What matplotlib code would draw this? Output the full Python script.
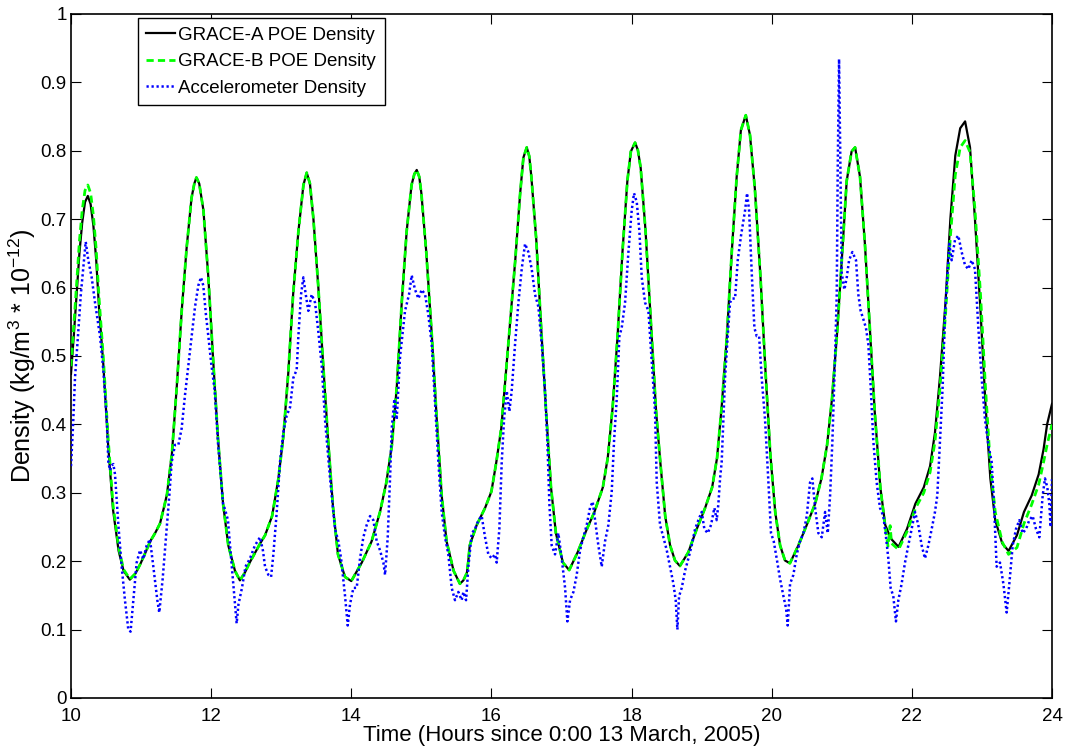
import numpy as np
import matplotlib
matplotlib.use("Agg")
import matplotlib.pyplot as plt

# ---------------- data ----------------
t_poe = [10.00, 10.04, 10.08, 10.12, 10.16, 10.20, 10.24, 10.28, 10.32, 10.36, 10.40, 10.46, 10.53, 10.60,
         10.68, 10.75, 10.84, 10.92, 10.99, 11.06, 11.13, 11.20, 11.27, 11.33, 11.37, 11.44, 11.51, 11.58,
         11.65, 11.72, 11.76, 11.79, 11.83, 11.89, 11.96, 12.03, 12.10, 12.17, 12.245, 12.34, 12.41, 12.48,
         12.55, 12.70, 12.77, 12.87, 12.96, 13.03, 13.10, 13.17, 13.245, 13.317, 13.364, 13.41, 13.46, 13.53,
         13.60, 13.67, 13.74, 13.81, 13.91, 14.00, 14.15, 14.29, 14.41, 14.50, 14.58, 14.65, 14.72, 14.79,
         14.86, 14.90, 14.934, 14.97, 15.00, 15.07, 15.15, 15.22, 15.29, 15.36, 15.46, 15.55, 15.60, 15.65,
         15.67, 15.69, 15.79, 15.91, 16.00, 16.07, 16.14, 16.19, 16.26, 16.34, 16.41, 16.456, 16.504, 16.54,
         16.57, 16.64, 16.71, 16.78, 16.85, 16.92, 17.02, 17.11, 17.23, 17.35, 17.47, 17.59, 17.66, 17.73,
         17.80, 17.87, 17.94, 17.99, 18.05, 18.09, 18.13, 18.20, 18.28, 18.35, 18.41, 18.48, 18.55, 18.62,
         18.69, 18.81, 18.93, 19.05, 19.15, 19.22, 19.29, 19.36, 19.43, 19.50, 19.56, 19.63, 19.69, 19.76,
         19.84, 19.91, 19.98, 20.05, 20.12, 20.19, 20.26, 20.38, 20.50, 20.62, 20.71, 20.79, 20.86, 20.93,
         21.00, 21.07, 21.14, 21.19, 21.26, 21.33, 21.40, 21.47, 21.55, 21.62, 21.66, 21.69, 21.71, 21.81,
         21.93, 22.05, 22.17, 22.26, 22.33, 22.40, 22.48, 22.55, 22.62, 22.69, 22.76, 22.83, 22.90, 22.98,
         23.05, 23.12, 23.19, 23.29, 23.38, 23.50, 23.60, 23.71, 23.81, 23.88, 23.93, 24.00]

grace_a = [0.474, 0.53, 0.59, 0.65, 0.695, 0.725, 0.734, 0.722, 0.69, 0.64, 0.57, 0.49, 0.37, 0.275,
           0.215, 0.186, 0.173, 0.182, 0.196, 0.212, 0.229, 0.241, 0.255, 0.28, 0.298, 0.357, 0.456, 0.566,
           0.658, 0.731, 0.752, 0.761, 0.752, 0.713, 0.615, 0.492, 0.376, 0.284, 0.223, 0.186, 0.172, 0.183,
           0.198, 0.226, 0.238, 0.266, 0.321, 0.382, 0.474, 0.59, 0.682, 0.75, 0.768, 0.752, 0.70, 0.60,
           0.486, 0.376, 0.278, 0.21, 0.177, 0.171, 0.198, 0.229, 0.272, 0.315, 0.37, 0.456, 0.578, 0.682,
           0.75, 0.766, 0.772, 0.762, 0.738, 0.652, 0.529, 0.407, 0.296, 0.229, 0.186, 0.167, 0.172, 0.183,
           0.20, 0.223, 0.253, 0.278, 0.302, 0.345, 0.394, 0.456, 0.541, 0.64, 0.738, 0.79, 0.805, 0.792,
           0.762, 0.67, 0.541, 0.419, 0.308, 0.241, 0.198, 0.187, 0.213, 0.244, 0.272, 0.308, 0.351, 0.425,
           0.529, 0.652, 0.756, 0.799, 0.812, 0.801, 0.775, 0.682, 0.541, 0.419, 0.345, 0.266, 0.223, 0.201,
           0.193, 0.213, 0.247, 0.278, 0.308, 0.351, 0.431, 0.529, 0.652, 0.762, 0.83, 0.852, 0.823, 0.744,
           0.615, 0.48, 0.357, 0.272, 0.223, 0.201, 0.197, 0.223, 0.253, 0.284, 0.321, 0.37, 0.437, 0.529,
           0.64, 0.756, 0.799, 0.805, 0.762, 0.664, 0.541, 0.419, 0.308, 0.253, 0.243, 0.236, 0.232, 0.221,
           0.247, 0.284, 0.308, 0.339, 0.388, 0.468, 0.578, 0.701, 0.793, 0.833, 0.843, 0.805, 0.701, 0.566,
           0.431, 0.321, 0.26, 0.226, 0.215, 0.238, 0.272, 0.296, 0.327, 0.364, 0.40, 0.43]

grace_b = [0.485, 0.545, 0.605, 0.668, 0.713, 0.742, 0.75, 0.738, 0.705, 0.655, 0.585, 0.50, 0.38, 0.282,
           0.22, 0.188, 0.174, 0.182, 0.196, 0.212, 0.229, 0.241, 0.255, 0.28, 0.298, 0.357, 0.456, 0.566,
           0.658, 0.731, 0.752, 0.761, 0.752, 0.713, 0.615, 0.492, 0.376, 0.284, 0.223, 0.186, 0.172, 0.183,
           0.198, 0.226, 0.238, 0.266, 0.321, 0.382, 0.474, 0.59, 0.682, 0.75, 0.768, 0.752, 0.70, 0.60,
           0.486, 0.376, 0.278, 0.21, 0.177, 0.171, 0.198, 0.229, 0.272, 0.315, 0.37, 0.456, 0.578, 0.682,
           0.75, 0.766, 0.772, 0.762, 0.738, 0.652, 0.529, 0.407, 0.296, 0.229, 0.186, 0.167, 0.172, 0.183,
           0.20, 0.223, 0.253, 0.278, 0.302, 0.345, 0.394, 0.456, 0.541, 0.64, 0.738, 0.79, 0.805, 0.792,
           0.762, 0.67, 0.541, 0.419, 0.308, 0.241, 0.198, 0.187, 0.213, 0.244, 0.272, 0.308, 0.351, 0.425,
           0.529, 0.652, 0.756, 0.799, 0.812, 0.801, 0.775, 0.682, 0.541, 0.419, 0.345, 0.266, 0.223, 0.201,
           0.193, 0.213, 0.247, 0.278, 0.308, 0.351, 0.431, 0.529, 0.652, 0.762, 0.83, 0.852, 0.823, 0.744,
           0.615, 0.48, 0.357, 0.272, 0.223, 0.201, 0.197, 0.223, 0.253, 0.284, 0.321, 0.37, 0.437, 0.529,
           0.64, 0.756, 0.799, 0.805, 0.762, 0.664, 0.541, 0.419, 0.308, 0.25, 0.222, 0.252, 0.226, 0.217,
           0.243, 0.277, 0.300, 0.330, 0.375, 0.452, 0.56, 0.675, 0.765, 0.805, 0.815, 0.798, 0.715, 0.59,
           0.455, 0.34, 0.272, 0.228, 0.21, 0.22, 0.255, 0.283, 0.312, 0.345, 0.37, 0.40]

t_acc = [10.000, 10.03, 10.057, 10.10, 10.14, 10.18, 10.21, 10.247, 10.295, 10.343, 10.414, 10.461, 10.51,
         10.533, 10.557, 10.58, 10.604, 10.628, 10.676, 10.723, 10.77, 10.818, 10.85, 10.89, 10.937, 10.985,
         11.032, 11.08, 11.127, 11.175, 11.232, 11.26, 11.308, 11.355, 11.403, 11.437, 11.484, 11.532, 11.579,
         11.627, 11.674, 11.722, 11.77, 11.817, 11.855, 11.888, 11.926, 11.96, 12.0, 12.05, 12.10, 12.14,
         12.17, 12.20, 12.24, 12.28, 12.33, 12.364, 12.39, 12.44, 12.49, 12.554, 12.625, 12.697, 12.74,
         12.769, 12.817, 12.855, 12.888, 12.936, 12.983, 13.03, 13.078, 13.126, 13.173, 13.221, 13.245,
         13.283, 13.316, 13.35, 13.387, 13.435, 13.483, 13.53, 13.578, 13.625, 13.697, 13.768, 13.816,
         13.854, 13.911, 13.949, 13.982, 14.03, 14.077, 14.125, 14.172, 14.22, 14.268, 14.315, 14.363, 14.41,
         14.458, 14.482, 14.52, 14.553, 14.577, 14.615, 14.648, 14.696, 14.767, 14.824, 14.862, 14.91,
         14.958, 15.005, 15.053, 15.1, 15.148, 15.195, 15.243, 15.29, 15.338, 15.385, 15.433, 15.48, 15.528,
         15.575, 15.60, 15.638, 15.671, 15.719, 15.766, 15.814, 15.861, 15.909, 15.956, 16.004, 16.052,
         16.075, 16.113, 16.147, 16.18, 16.218, 16.256, 16.289, 16.337, 16.385, 16.432, 16.48, 16.527,
         16.575, 16.622, 16.67, 16.718, 16.765, 16.798, 16.827, 16.86, 16.908, 16.955, 17.003, 17.051,
         17.084, 17.122, 17.17, 17.217, 17.265, 17.312, 17.36, 17.407, 17.445, 17.479, 17.526, 17.574,
         17.621, 17.669, 17.717, 17.75, 17.788, 17.826, 17.859, 17.907, 17.955, 18.002, 18.035, 18.074,
         18.112, 18.145, 18.193, 18.24, 18.288, 18.335, 18.359, 18.406, 18.454, 18.502, 18.549, 18.597,
         18.63, 18.654, 18.678, 18.716, 18.763, 18.811, 18.858, 18.906, 18.953, 19.001, 19.039, 19.087,
         19.134, 19.182, 19.215, 19.239, 19.263, 19.286, 19.31, 19.334, 19.372, 19.405, 19.439, 19.477,
         19.515, 19.562, 19.62, 19.648, 19.677, 19.715, 19.753, 19.786, 19.82, 19.857, 19.905, 19.953,
         19.99, 20.029, 20.071, 20.119, 20.167, 20.205, 20.228, 20.262, 20.309, 20.357, 20.404, 20.452,
         20.5, 20.547, 20.58, 20.619, 20.666, 20.714, 20.762, 20.8, 20.833, 20.866, 20.904, 20.928, 20.942,
         20.961, 20.98, 20.999, 21.037, 21.071, 21.104, 21.151, 21.203, 21.236, 21.269, 21.307, 21.345,
         21.379, 21.412, 21.45, 21.498, 21.545, 21.593, 21.631, 21.664, 21.697, 21.735, 21.773, 21.807,
         21.854, 21.902, 21.949, 21.997, 22.045, 22.092, 22.14, 22.187, 22.235, 22.283, 22.33, 22.363,
         22.401, 22.44, 22.473, 22.506, 22.535, 22.568, 22.616, 22.663, 22.711, 22.758, 22.806, 22.853,
         22.901, 22.949, 22.996, 23.044, 23.091, 23.139, 23.172, 23.21, 23.258, 23.306, 23.353, 23.391,
         23.439, 23.486, 23.534, 23.581, 23.629, 23.676, 23.724, 23.772, 23.819, 23.867, 23.9, 23.933,
         23.962, 23.98, 24.0]

accel = [0.339, 0.40, 0.468, 0.53, 0.59, 0.635, 0.667, 0.64, 0.615, 0.578, 0.529, 0.48, 0.407,
         0.345, 0.333, 0.34, 0.342, 0.327, 0.253, 0.192, 0.143, 0.10, 0.097, 0.143, 0.198, 0.216,
         0.203, 0.223, 0.232, 0.192, 0.143, 0.125, 0.174, 0.235, 0.296, 0.345, 0.37, 0.37, 0.394,
         0.443, 0.486, 0.529, 0.572, 0.603, 0.615, 0.603, 0.56, 0.529, 0.49, 0.45, 0.37, 0.32,
         0.284, 0.275, 0.26, 0.21, 0.15, 0.109, 0.137, 0.161, 0.192, 0.204, 0.223, 0.235, 0.215,
         0.192, 0.18, 0.177, 0.21, 0.272, 0.345, 0.388, 0.413, 0.425, 0.468, 0.48, 0.529,
         0.59, 0.615, 0.59, 0.566, 0.59, 0.578, 0.535, 0.486, 0.407, 0.321, 0.247, 0.229,
         0.204, 0.149, 0.106, 0.137, 0.161, 0.161, 0.204, 0.235, 0.253, 0.266, 0.26, 0.229, 0.216,
         0.198, 0.18, 0.235, 0.321, 0.394, 0.437, 0.407, 0.499, 0.566, 0.59, 0.618, 0.597,
         0.584, 0.597, 0.59, 0.56, 0.517, 0.431, 0.345, 0.272, 0.235, 0.21, 0.161, 0.143, 0.155,
         0.143, 0.155, 0.143, 0.192, 0.241, 0.247, 0.26, 0.266, 0.235, 0.21, 0.204, 0.21,
         0.198, 0.247, 0.345, 0.407, 0.449, 0.419, 0.449, 0.517, 0.578, 0.627, 0.664, 0.652,
         0.627, 0.59, 0.572, 0.517, 0.449, 0.376, 0.284, 0.223, 0.21, 0.241, 0.204, 0.161,
         0.112, 0.143, 0.155, 0.18, 0.216, 0.235, 0.253, 0.278, 0.287, 0.26, 0.223, 0.192,
         0.229, 0.253, 0.302, 0.376, 0.437, 0.529, 0.541, 0.578, 0.652, 0.713, 0.738, 0.725,
         0.682, 0.615, 0.578, 0.566, 0.492, 0.419, 0.315, 0.253, 0.235, 0.216, 0.192, 0.167,
         0.143, 0.10, 0.149, 0.161, 0.186, 0.204, 0.223, 0.247, 0.26, 0.272, 0.247, 0.241,
         0.253, 0.278, 0.26, 0.284, 0.321, 0.345, 0.407, 0.468, 0.529, 0.578, 0.584, 0.584,
         0.64, 0.676, 0.713, 0.738, 0.713, 0.621, 0.541, 0.529, 0.529, 0.468, 0.407, 0.315,
         0.241, 0.229, 0.204, 0.174, 0.149, 0.131, 0.106, 0.167, 0.18, 0.21, 0.229, 0.241,
         0.266, 0.315, 0.321, 0.278, 0.241, 0.235, 0.272, 0.241, 0.296, 0.376, 0.499, 0.59, 0.774,
         0.934, 0.774, 0.621, 0.597, 0.615, 0.64, 0.652, 0.64, 0.59, 0.566, 0.554, 0.541,
         0.517, 0.456, 0.376, 0.315, 0.278, 0.266, 0.235, 0.204, 0.161, 0.149, 0.112, 0.143,
         0.167, 0.198, 0.223, 0.247, 0.272, 0.253, 0.223, 0.204, 0.223, 0.247, 0.272, 0.296,
         0.376, 0.456, 0.56, 0.615, 0.664, 0.64, 0.67, 0.676, 0.652, 0.633, 0.627, 0.64,
         0.627, 0.541, 0.468, 0.407, 0.37, 0.345, 0.284, 0.192, 0.198, 0.167, 0.125, 0.167,
         0.223, 0.247, 0.26, 0.241, 0.247, 0.26, 0.266, 0.247, 0.235, 0.296, 0.321, 0.308,
         0.284, 0.25, 0.32]

x_ticks = [10, 12, 14, 16, 18, 20, 22, 24]
y_ticks = [0, 0.1, 0.2, 0.3, 0.4, 0.5, 0.6, 0.7, 0.8, 0.9, 1]
y_tick_labels = ["0", "0.1", "0.2", "0.3", "0.4", "0.5", "0.6", "0.7", "0.8", "0.9", "1"]

labels = ["GRACE-A POE Density", "GRACE-B POE Density", "Accelerometer Density"]
x_label = "Time (Hours since 0:00 13 March, 2005)"
y_label = r"Density (kg/m$^{3}$ * 10$^{-12}$)"

# ---------------- figure ----------------
plt.rcParams["font.family"] = ["Liberation Sans", "DejaVu Sans"]
plt.rcParams["mathtext.fontset"] = "custom"
plt.rcParams["mathtext.rm"] = "Liberation Sans"
plt.rcParams["mathtext.it"] = "Liberation Sans:italic"
plt.rcParams["mathtext.default"] = "regular"

fig = plt.figure(figsize=(10.65, 7.48), dpi=100)
ax = fig.add_axes([71 / 1065, 50 / 748, 981 / 1065, 684 / 748])

ax.plot(t_poe, grace_a, color="black", lw=1.6, label=labels[0], zorder=2)
ax.plot(t_poe, grace_b, color="#00ff00", lw=2.0, dashes=(2.6, 1.5), label=labels[1], zorder=3)
ax.plot(t_acc, accel, color="#0000ff", lw=1.8, dashes=(0.9, 1.1), label=labels[2], zorder=4)

ax.set_xlim(10, 24)
ax.set_ylim(0, 1)
ax.set_xticks(x_ticks)
ax.set_xticklabels([str(v) for v in x_ticks])
ax.set_yticks(y_ticks)
ax.set_yticklabels(y_tick_labels)

ax.tick_params(axis="both", direction="in", length=7, width=0.8, top=True, right=True,
               labelsize=13.5, colors="black")
ax.tick_params(axis="x", pad=7)
ax.tick_params(axis="y", pad=3)
for sp in ax.spines.values():
    sp.set_linewidth(1.2)

ax.set_xlabel(x_label, fontsize=16, labelpad=0)
ax.set_ylabel(y_label, fontsize=18, labelpad=2)

leg = ax.legend(loc="upper left", bbox_to_anchor=((138 - 71) / 981, 1 - 4 / 684),
                borderaxespad=0, fontsize=13.5, frameon=True, fancybox=False, shadow=False,
                framealpha=1, edgecolor="black", handlelength=1.5, handletextpad=0.2,
                labelspacing=0.5, borderpad=0.45)
leg.get_frame().set_linewidth(1.0)

fig.savefig("out.png", dpi=100)
